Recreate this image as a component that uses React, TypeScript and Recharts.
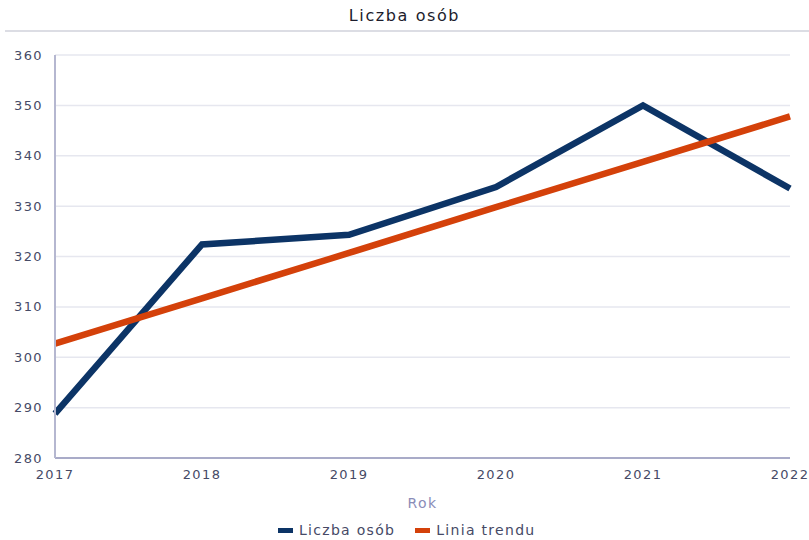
import React from 'react';
import { CartesianGrid, Label, Line, LineChart, XAxis, YAxis } from 'recharts';

const years = ['2017', '2018', '2019', '2020', '2021', '2022'];
const liczbaOsob = [288.8, 322.4, 324.3, 333.8, 350, 333.5];
const liniaTrendu = [302.7, 311.7, 320.7, 329.8, 338.8, 347.8];
const yTicks = [280, 290, 300, 310, 320, 330, 340, 350, 360];

const data = years.map((rok, i) => ({
  rok,
  osoby: liczbaOsob[i],
  trend: liniaTrendu[i],
}));

const FONT = '"DejaVu Sans", Verdana, sans-serif';
const TEXT = '#464a66';
const BLUE = '#0c3466';
const ORANGE = '#d4410a';

const tickStyle = { fontSize: 13, fill: TEXT, fontFamily: FONT, letterSpacing: 1.4 };

const App: React.FC = () => {
  return (
    <div style={{ position: 'absolute', left: 0, top: 0, width: 809, height: 540, background: '#fff', fontFamily: FONT }}>
      <div style={{ position: 'absolute', top: 6, left: 0, width: 809, textAlign: 'center', fontSize: 16, letterSpacing: 1.6, color: '#1c1c2c' }}>
        Liczba osób
      </div>
      <div style={{ position: 'absolute', top: 30, left: 5, width: 804, height: 2, background: '#dcdde4' }} />
      <LineChart width={809} height={540} data={data} margin={{ top: 55, right: 19, bottom: 52, left: 0 }}>
        <CartesianGrid vertical={false} stroke="#e6e7ef" strokeWidth={1.5} />
        <XAxis
          dataKey="rok"
          tickSize={0}
          tickMargin={12}
          height={30}
          axisLine={{ stroke: '#a9abc8', strokeWidth: 2 }}
          tick={tickStyle}
        >
          <Label value="Rok" position="insideBottom" offset={-20} fill="#8a8db8" fontSize={14} fontFamily={FONT} letterSpacing={1.4} />
        </XAxis>
        <YAxis
          width={55}
          domain={[280, 360]}
          ticks={yTicks}
          tickSize={0}
          tickMargin={12}
          axisLine={{ stroke: '#b5b7d0', strokeWidth: 2 }}
          tick={tickStyle}
        />
        <Line dataKey="osoby" name="Liczba osób" stroke={BLUE} strokeWidth={6.5} dot={false} isAnimationActive={false} />
        <Line dataKey="trend" name="Linia trendu" stroke={ORANGE} strokeWidth={6.5} dot={false} isAnimationActive={false} />
      </LineChart>
      <div style={{ position: 'absolute', top: 522, left: 278, display: 'flex', alignItems: 'center', fontSize: 14, letterSpacing: 1.3, color: TEXT }}>
        <span style={{ display: 'inline-block', width: 15, height: 5, background: BLUE, marginRight: 6 }} />
        <span>Liczba osób</span>
        <span style={{ display: 'inline-block', width: 15, height: 5, background: ORANGE, marginLeft: 20, marginRight: 6 }} />
        <span>Linia trendu</span>
      </div>
    </div>
  );
};

export default App;
